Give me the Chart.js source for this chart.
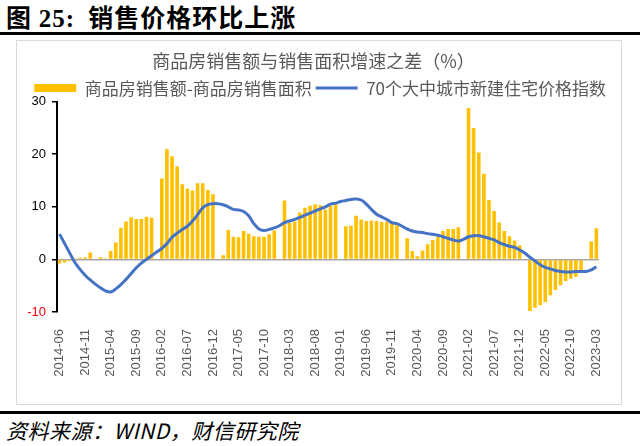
<!DOCTYPE html>
<html>
<head>
<meta charset="utf-8">
<script src="https://cdn.jsdelivr.net/npm/chart.js@4.4.1/dist/chart.umd.min.js"></script>
<style>
  body { margin: 0; width: 640px; height: 446px; background: #fff; position: relative; overflow: hidden;
         font-family: "Noto Sans CJK SC", sans-serif; }
  #head { position: absolute; left: 6px; top: -2px; font-size: 25px; font-weight: bold; color: #000; letter-spacing: 1px; }
  .rule { position: absolute; left: 0; width: 640px; height: 3px; background: #000; }
  #panel { position: absolute; left: 16px; top: 40px; width: 604px; height: 363px; border: 1px solid #d9d9d9; }
  #foot { position: absolute; left: 6px; top: 415px; font-size: 21px; font-style: italic; color: #000; letter-spacing: 0.5px; }
</style>
</head>
<body>
<div id="head">图 <span style="font-family:'Liberation Serif'">25:</span>&nbsp;&nbsp;销售价格环比上涨</div>
<div class="rule" style="top:32px"></div>
<div id="panel"><canvas id="c"></canvas></div>
<div class="rule" style="top:411px"></div>
<div id="foot">资料来源：WIND，财信研究院</div>
<script>
// monthly categories 2014-06 .. 2023-03
var months = [
  '2014-06','2014-07','2014-08','2014-09','2014-10','2014-11','2014-12',
  '2015-01','2015-02','2015-03','2015-04','2015-05','2015-06','2015-07','2015-08','2015-09','2015-10','2015-11','2015-12',
  '2016-01','2016-02','2016-03','2016-04','2016-05','2016-06','2016-07','2016-08','2016-09','2016-10','2016-11','2016-12',
  '2017-01','2017-02','2017-03','2017-04','2017-05','2017-06','2017-07','2017-08','2017-09','2017-10','2017-11','2017-12',
  '2018-01','2018-02','2018-03','2018-04','2018-05','2018-06','2018-07','2018-08','2018-09','2018-10','2018-11','2018-12',
  '2019-01','2019-02','2019-03','2019-04','2019-05','2019-06','2019-07','2019-08','2019-09','2019-10','2019-11','2019-12',
  '2020-01','2020-02','2020-03','2020-04','2020-05','2020-06','2020-07','2020-08','2020-09','2020-10','2020-11','2020-12',
  '2021-01','2021-02','2021-03','2021-04','2021-05','2021-06','2021-07','2021-08','2021-09','2021-10','2021-11','2021-12',
  '2022-01','2022-02','2022-03','2022-04','2022-05','2022-06','2022-07','2022-08','2022-09','2022-10','2022-11','2022-12',
  '2023-01','2023-02','2023-03'
];

var tickLabels = ['2014-06','2014-11','2015-04','2015-09','2016-02','2016-07','2016-12','2017-05','2017-10',
  '2018-03','2018-08','2019-01','2019-06','2019-11','2020-04','2020-09','2021-02','2021-07','2021-12',
  '2022-05','2022-10','2023-03'];

// 商品房销售额-商品房销售面积 (January has no data)
var salesGap = [
  -0.8, -0.6, -0.3, 0.2, 0.3, 0.4, 1.3,
  null, 0.4, 0.2, 1.6, 3.2, 6.0, 7.2, 8.0, 7.7, 7.7, 8.1, 7.9,
  null, 15.4, 21.0, 19.6, 17.7, 14.3, 13.5, 13.1, 14.5, 14.5, 13.2, 12.4,
  null, 0.8, 5.6, 4.3, 4.2, 5.4, 4.9, 4.4, 4.3, 4.3, 4.8, 5.5,
  null, 11.2, 6.9, 7.2, 8.9, 9.8, 10.2, 10.5, 10.3, 9.5, 10.2, 10.5,
  null, 6.3, 6.4, 8.3, 7.6, 7.3, 7.4, 7.3, 7.1, 7.2, 6.9, 6.5,
  null, 4.0, 1.6, 0.6, 1.7, 2.9, 3.7, 4.3, 5.4, 5.8, 5.8, 6.1,
  null, 28.8, 25.0, 20.3, 16.3, 11.3, 9.2, 7.0, 5.4, 4.4, 3.6, 2.7,
  null, -9.8, -9.2, -8.7, -8.1, -6.8, -5.8, -4.9, -4.1, -3.7, -3.3, -2.3,
  null, 3.4, 5.9
];

// 70个大中城市新建住宅价格指数
var priceIndex = [
  4.8, 3.0, 1.2, -0.6, -1.9, -3.0, -3.9,
  -4.7, -5.4, -6.0, -6.2, -5.6, -4.8, -3.8, -2.7, -1.6, -0.7, 0.0, 0.7,
  1.4, 2.1, 3.0, 4.2, 5.0, 5.7, 6.3, 7.3, 8.5, 9.8, 10.4, 10.6,
  10.6, 10.4, 10.0, 9.5, 9.4, 9.1, 8.3, 6.8, 5.8, 5.5, 5.7, 6.0,
  6.4, 7.0, 7.3, 7.6, 8.0, 8.4, 8.8, 9.2, 9.6, 10.0, 10.5, 10.7,
  11.0, 11.2, 11.4, 11.5, 11.3, 10.5, 9.5, 8.6, 8.1, 7.6, 7.0, 6.8,
  6.3, 5.8, 5.4, 5.2, 5.1, 4.9, 4.8, 4.6, 4.3, 4.0, 3.7, 3.5,
  3.8, 4.3, 4.5, 4.5, 4.3, 4.0, 3.7, 3.2, 2.8, 2.5, 2.3, 1.8,
  1.2, 0.4, -0.3, -1.0, -1.5, -1.8, -2.1, -2.3, -2.4, -2.4, -2.3, -2.3,
  -2.3, -2.0, -1.4
];

var seriesNames = ['商品房销售额-商品房销售面积', '70个大中城市新建住宅价格指数'];
var barColor = '#FFC000';
var lineColor = '#4472C4';

// the legend keeps 10px below itself; take some of it back so the plot starts higher
var legendTrim = {
  id: 'legendTrim',
  beforeUpdate: function (chart) {
    var lg = chart.legend;
    if (lg && !lg._trimmed) {
      var fit = lg.fit;
      lg.fit = function () { fit.call(this); this.height -= 5; };
      lg._trimmed = true;
    }
  }
};

new Chart(document.getElementById('c'), {
  plugins: [legendTrim],
  data: {
    labels: months,
    datasets: [{
      type: 'bar',
      label: seriesNames[0],
      data: salesGap,
      backgroundColor: barColor,
      barPercentage: 0.7,
      categoryPercentage: 1.0,
      order: 1
    }, {
      type: 'line',
      label: seriesNames[1],
      data: priceIndex,
      borderColor: lineColor,
      borderWidth: 3,
      pointRadius: 0,
      tension: 0.4,
      order: 0
    }]
  },
  options: {
    responsive: true,
    maintainAspectRatio: false,
    animation: false,
    layout: { padding: { left: 0, right: 11, top: 0, bottom: 0 } },
    plugins: {
      title: {
        display: true,
        text: '商品房销售额与销售面积增速之差（%）',
        color: '#595959',
        font: { size: 18, weight: 'normal', family: '"Noto Sans CJK SC"' },
        padding: { top: 9, bottom: 4 }
      },
      legend: {
        align: 'end',
        labels: {
          color: '#595959',
          font: { size: 17, family: '"Noto Sans CJK SC"' },
          usePointStyle: true,
          pointStyleWidth: 42,
          boxHeight: 8,
          padding: 4,
          generateLabels: function () {
            return [
              { text: seriesNames[0], fillStyle: barColor, strokeStyle: barColor, lineWidth: 0, pointStyle: 'rect', datasetIndex: 0, fontColor: '#595959' },
              { text: seriesNames[1], fillStyle: lineColor, strokeStyle: lineColor, lineWidth: 3, pointStyle: 'line', datasetIndex: 1, fontColor: '#595959' }
            ];
          }
        }
      },
      tooltip: { enabled: false }
    },
    scales: {
      x: {
        grid: { display: false },
        border: { display: false },
        afterFit: function (s) { s.height = 92; },
        ticks: {
          autoSkip: false,
          maxRotation: 90,
          minRotation: 90,
          padding: 9,
          color: '#595959',
          font: { size: 13, family: '"Liberation Sans"' },
          callback: function (v, i) {
            var m = months[i];
            return tickLabels.indexOf(m) >= 0 ? m : '';
          }
        }
      },
      y: {
        min: -10,
        max: 30,
        afterFit: function (s) { s.width = 40; },
        border: { display: true, color: '#000', width: 2 },
        grid: {
          color: function (ctx) { return ctx.tick && ctx.tick.value === 0 ? '#a6a6a6' : 'rgba(0,0,0,0)'; },
          lineWidth: 1.5,
          tickColor: '#000',
          tickLength: 5,
          tickWidth: 1.5
        },
        ticks: {
          stepSize: 10,
          padding: 6,
          color: function (ctx) { return ctx.tick.value < 0 ? '#ff0000' : '#000'; },
          font: { size: 13, family: '"Liberation Sans"' }
        }
      }
    }
  }
});
</script>
</body>
</html>
